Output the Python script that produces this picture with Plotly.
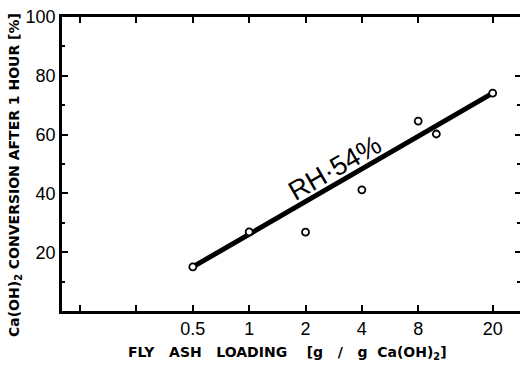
import math
import plotly.graph_objects as go

# Fly ash loading (g / g Ca(OH)2) and Ca(OH)2 conversion after 1 hour (%)
loading = [0.5, 1, 2, 4, 8, 10, 20]
conversion = [15.0, 26.9, 26.8, 41.2, 64.6, 60.2, 74.1]

# Fitted line, RH = 54 %
fit_x = [0.5, 20]
fit_y = [15.0, 74.1]

x_tickvals = [0.5, 1, 2, 4, 8, 20]
x_ticktext = ["0.5", "1", "2", "4", "8", "20"]
x_minor = [0.125, 0.25]
y_tickvals = [20, 40, 60, 80, 100]
y_minor = [10, 30, 50, 70, 90]

tick_font = dict(family="Liberation Sans, Arial, sans-serif", size=18, color="black")
title_font = dict(family="DejaVu Sans, sans-serif", size=14, color="black", weight="bold")

fig = go.Figure()

fig.add_trace(go.Scatter(
    x=fit_x, y=fit_y, mode="lines",
    line=dict(color="black", width=5),
    hoverinfo="skip", showlegend=False,
))
fig.add_trace(go.Scatter(
    x=loading, y=conversion, mode="markers",
    marker=dict(symbol="circle", size=7, color="white",
                line=dict(color="black", width=1.8)),
    showlegend=False,
))
# carrier for the right-hand tick axis
fig.add_trace(go.Scatter(
    x=loading, y=conversion, mode="markers", yaxis="y2",
    marker=dict(opacity=0), hoverinfo="skip", showlegend=False,
))

fig.add_annotation(
    x=math.log10(2.87), y=48.6, xref="x", yref="y",
    text="RH·54%", showarrow=False, textangle=-30,
    font=dict(family="Liberation Sans, Arial, sans-serif", size=27, color="black"),
)
fig.add_annotation(
    x=(15 - 62) / 458, y=(311 - 175) / 294, xref="paper", yref="paper",
    text="Ca(OH)<sub>2</sub> CONVERSION AFTER 1 HOUR [%]",
    textangle=-90, showarrow=False, xanchor="center", yanchor="middle",
    font=title_font,
)
fig.add_annotation(
    x=(287 - 62) / 458, y=(311 - 353) / 294, xref="paper", yref="paper",
    text="FLY\u00a0\u00a0 ASH\u00a0\u00a0 LOADING\u00a0\u00a0\u00a0 [g\u00a0\u00a0 /\u00a0\u00a0 g\u00a0 Ca(OH)<sub>2</sub>]",
    showarrow=False, xanchor="center", yanchor="middle",
    font=title_font,
)

fig.update_layout(
    width=520, height=371,
    margin=dict(l=62, r=0, t=17, b=60),
    paper_bgcolor="white", plot_bgcolor="white",
    xaxis=dict(
        type="log", range=[-1, 1.447],
        tickvals=x_tickvals, ticktext=x_ticktext,
        ticks="inside", ticklen=6, tickwidth=2, tickcolor="black",
        minor=dict(tickvals=x_minor, ticks="inside", ticklen=6, tickwidth=2, tickcolor="black"),
        showline=True, linecolor="black", linewidth=2.5, mirror="ticks",
        showgrid=False, zeroline=False, tickfont=tick_font,
    ),
    yaxis=dict(
        range=[0, 100], tickvals=y_tickvals,
        ticks="inside", ticklen=6, tickwidth=2, tickcolor="black",
        minor=dict(tickvals=y_minor, ticks="inside", ticklen=3, tickwidth=2, tickcolor="black"),
        showline=True, linecolor="black", linewidth=2.5, mirror=False,
        showgrid=False, zeroline=False, tickfont=tick_font,
    ),
    yaxis2=dict(
        overlaying="y", side="right", range=[0, 100],
        tickvals=[20, 40, 60, 80], showticklabels=False,
        ticks="inside", ticklen=5, tickwidth=2, tickcolor="black",
        minor=dict(tickvals=[10, 30, 50, 70], ticks="inside", ticklen=3, tickwidth=1.5, tickcolor="black"),
        showline=False, showgrid=False, zeroline=False,
    ),
)

fig.write_html("out.html")
